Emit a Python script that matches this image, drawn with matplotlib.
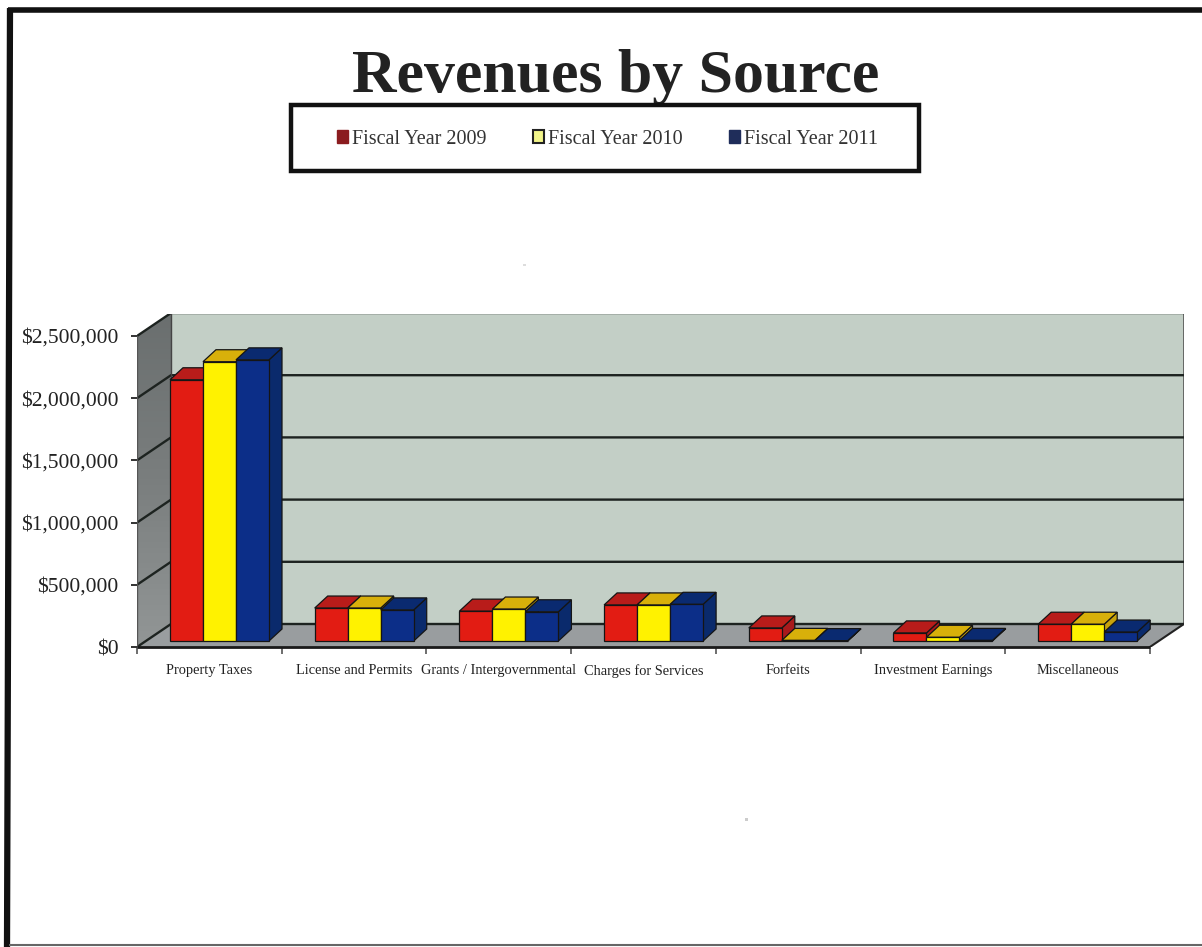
import numpy as np
import matplotlib
matplotlib.use('Agg')
import matplotlib.pyplot as plt
from matplotlib.patches import Patch, Polygon, Rectangle

categories = ['Property Taxes', 'License and Permits', 'Grants / Intergovernmental',
              'Charges for Services', 'Forfeits', 'Investment Earnings', 'Miscellaneous']
fy2009 = [2100000, 265000, 240000, 290000, 105000, 65000, 135000]
fy2010 = [2245000, 265000, 257000, 290000, 5000, 30000, 135000]
fy2011 = [2260000, 250000, 235000, 295000, 3000, 5000, 72000]
years = ['Fiscal Year 2009', 'Fiscal Year 2010', 'Fiscal Year 2011']
yticks = [0, 500000, 1000000, 1500000, 2000000, 2500000]
ytick_labels = ['$0', '$500,000', '$1,000,000', '$1,500,000', '$2,000,000', '$2,500,000']

W, H = 1202, 947
serif = 'Liberation Serif'

fig = plt.figure(figsize=(W / 100, H / 100), dpi=100)

# page furniture in pixel coordinates
bg = fig.add_axes([0, 0, 1, 1])
bg.set_xlim(0, W)
bg.set_ylim(H, 0)
bg.axis('off')
bg.plot([8, W], [10, 10], color='#111111', lw=4, solid_capstyle='butt')
bg.plot([10, 7], [8, H], color='#111111', lw=4.5, solid_capstyle='butt')
bg.plot([9, W], [945, 945], color='#666666', lw=1.5, solid_capstyle='butt')
bg.text(616, 77, 'Revenues by Source', family=serif, weight='bold', size=44.5,
        ha='center', va='center', color='#222222')
bg.add_patch(Rectangle((291, 105), 628, 66, fc='white', ec='#111111', lw=3.2, zorder=3))
bg.add_patch(Rectangle((523, 264), 3, 2, fc='#dddddd', ec='none'))
bg.add_patch(Rectangle((745, 818), 3, 3, fc='#cccccc', ec='none'))

handles = [Patch(fc='#8b1c1f', ec='#8b1c1f'),
           Patch(fc='#f2f58a', ec='#222222', lw=1.5),
           Patch(fc='#1f2d5a', ec='#1f2d5a')]
leg = bg.legend(handles, years, ncol=3, loc='center', frameon=False,
                bbox_to_anchor=(607.5, 139), bbox_transform=bg.transData,
                prop={'family': serif, 'size': 14.5}, handlelength=0.55, handleheight=0.65,
                handletextpad=0.2, columnspacing=2.3, borderpad=0, borderaxespad=0)
leg.set_zorder(4)
for t in leg.get_texts():
    t.set_color('#333333')

# plot area: front plane starts at x=137, y=647, the back wall reaches x=1184, y=314
ax = fig.add_axes([137 / W, 1 - 647 / H, (1184 - 137) / W, (647 - 314) / H])
px_x = 144.7
px_y = 124.4e-6
ax.patch.set_visible(False)
for s in ax.spines.values():
    s.set_visible(False)

def dx(px):
    return px / px_x

def dy(px):
    return px / px_y

depth_x, depth_y = dx(34), dy(23)
n = len(categories)
top = 2500000

wall = [(depth_x, depth_y), (n + depth_x, depth_y), (n + depth_x, top + depth_y), (depth_x, top + depth_y)]
ax.add_patch(Polygon(wall, fc='#c3cfc6', ec='#555555', lw=1.2, zorder=1))
floor = [(0, 0), (n, 0), (n + depth_x, depth_y), (depth_x, depth_y)]
ax.add_patch(Polygon(floor, fc='#999d9f', ec='none', zorder=1))

# side wall is a dark to light vertical gradient clipped to its outline
side = Polygon([(0, 0), (depth_x, depth_y), (depth_x, top + depth_y), (0, top)],
               fc='none', ec='none', transform=ax.transData)
ax.add_patch(side)
grad = ax.imshow(np.linspace(0, 1, 64).reshape(-1, 1), cmap=matplotlib.colors.LinearSegmentedColormap.from_list(
    'sidewall', ['#6a6f6f', '#7a7e7e', '#929696']), aspect='auto', origin='upper',
    extent=(0, depth_x, 0, top + depth_y), zorder=1)
grad.set_clip_path(side)
ax.set_xlim(0, (1184 - 137) / px_x)
ax.set_ylim(0, (647 - 314) / px_y)

for v in yticks:
    ax.plot([0, depth_x, n + depth_x], [v, v + depth_y, v + depth_y], color='#1d2320', lw=1.7,
            zorder=2, solid_joinstyle='miter')
ax.plot([depth_x, depth_x], [depth_y, top + depth_y], color='#444444', lw=1, zorder=2)
ax.plot([n, n + depth_x], [0, depth_y], color='#222222', lw=1.5, zorder=2)
ax.plot([0, 0], [0, top], color='#555555', lw=1, zorder=2)

# 3D columns, each series as front face, side face and top face
series = [
    (fy2009, '#e21c13', '#a91a1c', '#b81c1a'),
    (fy2010, '#fff200', '#c7a30c', '#d8b00a'),
    (fy2011, '#0c2e88', '#0a2a6c', '#0a2a70'),
]
bar_w = dx(33)
group_off = dx(33)
base = dy(6)
off_x, off_y = dx(13), dy(12)
for i in range(n):
    for j, (vals, c_front, c_side, c_top) in enumerate(series):
        x0 = i + group_off + j * bar_w
        x1 = x0 + bar_w
        y0 = base
        y1 = base + vals[i]
        ax.add_patch(Polygon([(x1, y0), (x1 + off_x, y0 + off_y), (x1 + off_x, y1 + off_y), (x1, y1)],
                             fc=c_side, ec='#151515', lw=0.9, zorder=3))
        ax.add_patch(Polygon([(x0, y1), (x1, y1), (x1 + off_x, y1 + off_y), (x0 + off_x, y1 + off_y)],
                             fc=c_top, ec='#151515', lw=0.9, zorder=3))
        ax.add_patch(Rectangle((x0, y0), bar_w, vals[i], fc=c_front, ec='#151515', lw=0.9, zorder=3))

ax.plot([0, n], [0, 0], color='#1a1a1a', lw=2, zorder=4, clip_on=False, solid_capstyle='butt')

ax.set_xticks(range(n + 1))
ax.set_xticklabels([])
ax.set_xticks(np.arange(n) + 0.5, minor=True)
ax.set_xticklabels(categories, minor=True, family=serif, size=10.4, color='#222222')
ax.tick_params(axis='x', which='major', length=5, width=1.2, color='#555555')
ax.tick_params(axis='x', which='minor', length=0, pad=12.5)
ax.set_yticks(yticks)
ax.set_yticklabels(ytick_labels, family=serif, size=15.5, color='#222222')
ax.tick_params(axis='y', length=4.5, width=1.4, color='#333333', pad=9)

fig.savefig('out.png', dpi=100)
